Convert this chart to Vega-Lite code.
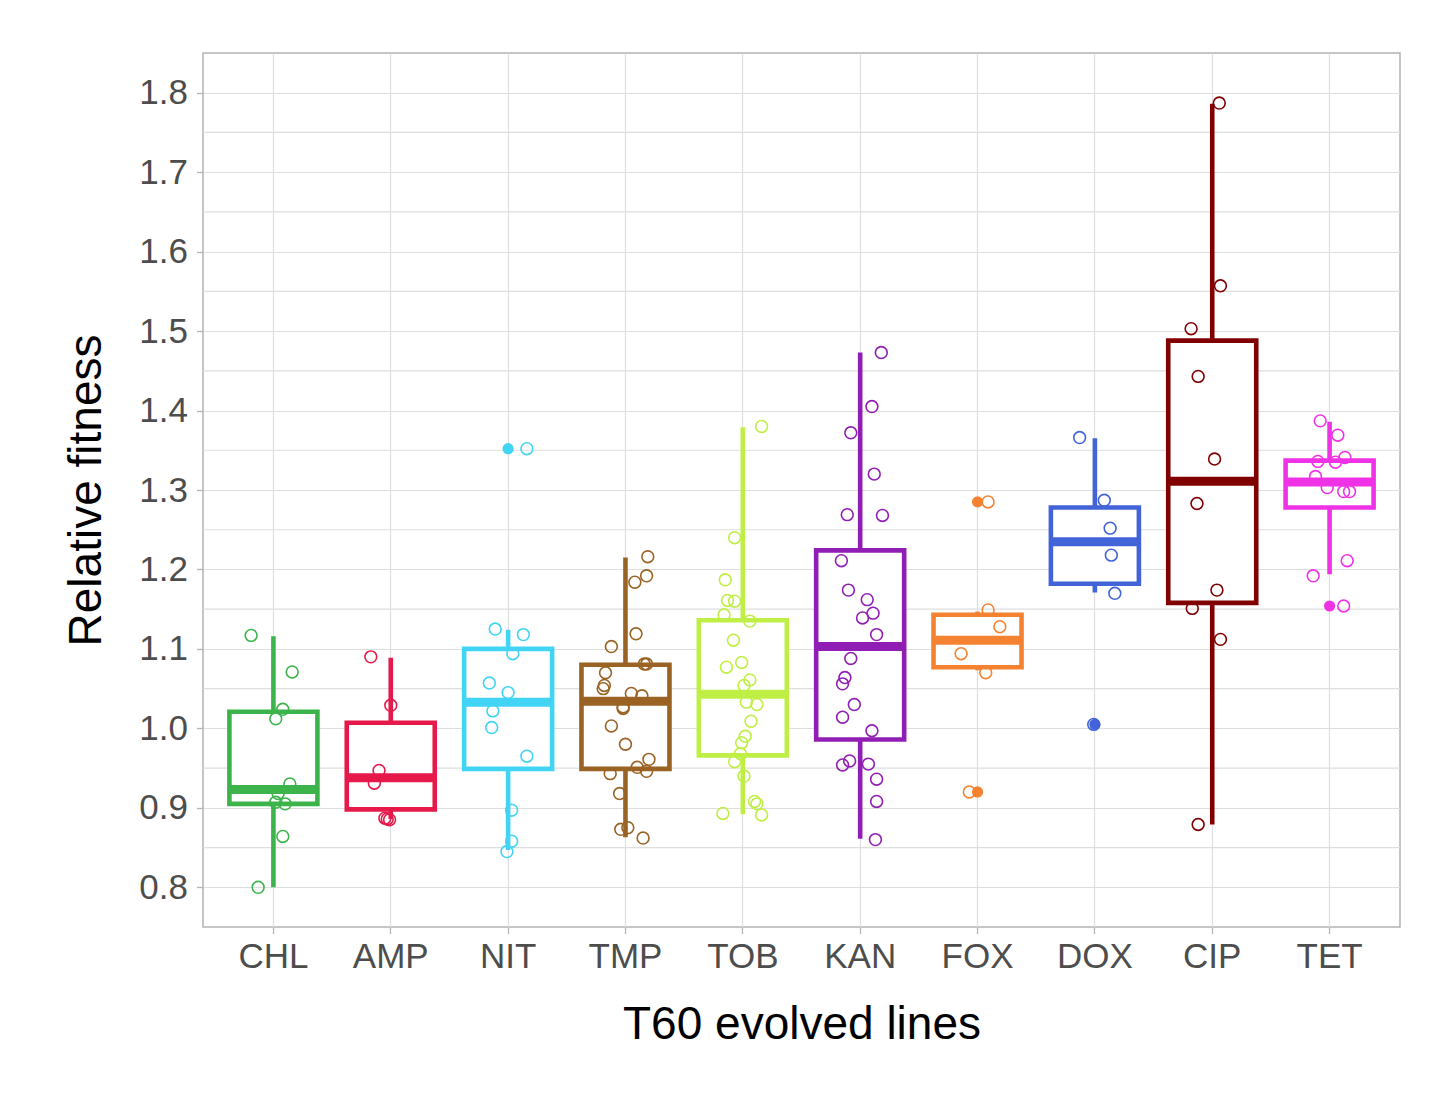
{
  "$schema": "https://vega.github.io/schema/vega-lite/v6.json",
  "width": 1197,
  "height": 874,
  "autosize": {"type": "none"},
  "padding": {"left": 203, "top": 53, "right": 32, "bottom": 166},
  "background": "white",
  "datasets": {
    "minor": [
      {"v": 0.85}, {"v": 0.95}, {"v": 1.05}, {"v": 1.15}, {"v": 1.25}, {"v": 1.35},
      {"v": 1.45}, {"v": 1.55}, {"v": 1.65}, {"v": 1.75}
    ],
    "boxes": [
      {"cat": "CHL", "lower": 0.800, "q1": 0.905, "median": 0.923, "q3": 1.021, "upper": 1.116},
      {"cat": "AMP", "lower": 0.886, "q1": 0.898, "median": 0.938, "q3": 1.007, "upper": 1.089},
      {"cat": "NIT", "lower": 0.847, "q1": 0.949, "median": 1.033, "q3": 1.100, "upper": 1.124},
      {"cat": "TMP", "lower": 0.863, "q1": 0.949, "median": 1.034, "q3": 1.080, "upper": 1.215},
      {"cat": "TOB", "lower": 0.892, "q1": 0.966, "median": 1.043, "q3": 1.136, "upper": 1.379},
      {"cat": "KAN", "lower": 0.861, "q1": 0.986, "median": 1.103, "q3": 1.224, "upper": 1.473},
      {"cat": "FOX", "lower": 1.073, "q1": 1.077, "median": 1.111, "q3": 1.143, "upper": 1.147},
      {"cat": "DOX", "lower": 1.171, "q1": 1.182, "median": 1.235, "q3": 1.278, "upper": 1.365},
      {"cat": "CIP", "lower": 0.879, "q1": 1.158, "median": 1.311, "q3": 1.488, "upper": 1.786},
      {"cat": "TET", "lower": 1.194, "q1": 1.278, "median": 1.310, "q3": 1.337, "upper": 1.386}
    ],
    "outliers": [
      {"cat": "NIT", "fitness": 1.352},
      {"cat": "FOX", "fitness": 1.285},
      {"cat": "FOX", "fitness": 0.920},
      {"cat": "DOX", "fitness": 1.005},
      {"cat": "TET", "fitness": 1.154}
    ],
    "points": [
      {"cat": "CHL", "fitness": 1.117, "jitter": -0.19},
      {"cat": "CHL", "fitness": 1.071, "jitter": 0.16},
      {"cat": "CHL", "fitness": 1.024, "jitter": 0.08},
      {"cat": "CHL", "fitness": 1.012, "jitter": 0.02},
      {"cat": "CHL", "fitness": 0.930, "jitter": 0.14},
      {"cat": "CHL", "fitness": 0.918, "jitter": 0.04},
      {"cat": "CHL", "fitness": 0.907, "jitter": 0.02},
      {"cat": "CHL", "fitness": 0.905, "jitter": 0.10},
      {"cat": "CHL", "fitness": 0.864, "jitter": 0.08},
      {"cat": "CHL", "fitness": 0.800, "jitter": -0.13},
      {"cat": "AMP", "fitness": 1.090, "jitter": -0.17},
      {"cat": "AMP", "fitness": 1.029, "jitter": 0.00},
      {"cat": "AMP", "fitness": 0.947, "jitter": -0.10},
      {"cat": "AMP", "fitness": 0.931, "jitter": -0.14},
      {"cat": "AMP", "fitness": 0.887, "jitter": -0.05},
      {"cat": "AMP", "fitness": 0.886, "jitter": -0.03},
      {"cat": "AMP", "fitness": 0.885, "jitter": -0.01},
      {"cat": "NIT", "fitness": 1.352, "jitter": 0.16},
      {"cat": "NIT", "fitness": 1.125, "jitter": -0.11},
      {"cat": "NIT", "fitness": 1.118, "jitter": 0.13},
      {"cat": "NIT", "fitness": 1.094, "jitter": 0.04},
      {"cat": "NIT", "fitness": 1.057, "jitter": -0.16},
      {"cat": "NIT", "fitness": 1.045, "jitter": 0.00},
      {"cat": "NIT", "fitness": 1.022, "jitter": -0.13},
      {"cat": "NIT", "fitness": 1.001, "jitter": -0.14},
      {"cat": "NIT", "fitness": 0.965, "jitter": 0.16},
      {"cat": "NIT", "fitness": 0.897, "jitter": 0.03},
      {"cat": "NIT", "fitness": 0.858, "jitter": 0.03},
      {"cat": "NIT", "fitness": 0.845, "jitter": -0.01},
      {"cat": "TMP", "fitness": 1.216, "jitter": 0.19},
      {"cat": "TMP", "fitness": 1.192, "jitter": 0.18},
      {"cat": "TMP", "fitness": 1.184, "jitter": 0.08},
      {"cat": "TMP", "fitness": 1.119, "jitter": 0.09},
      {"cat": "TMP", "fitness": 1.103, "jitter": -0.12},
      {"cat": "TMP", "fitness": 1.081, "jitter": 0.16},
      {"cat": "TMP", "fitness": 1.081, "jitter": 0.18},
      {"cat": "TMP", "fitness": 1.070, "jitter": -0.17},
      {"cat": "TMP", "fitness": 1.054, "jitter": -0.18},
      {"cat": "TMP", "fitness": 1.050, "jitter": -0.19},
      {"cat": "TMP", "fitness": 1.044, "jitter": 0.05},
      {"cat": "TMP", "fitness": 1.041, "jitter": 0.14},
      {"cat": "TMP", "fitness": 1.027, "jitter": -0.02},
      {"cat": "TMP", "fitness": 1.025, "jitter": -0.02},
      {"cat": "TMP", "fitness": 1.003, "jitter": -0.12},
      {"cat": "TMP", "fitness": 0.980, "jitter": 0.00},
      {"cat": "TMP", "fitness": 0.961, "jitter": 0.20},
      {"cat": "TMP", "fitness": 0.951, "jitter": 0.10},
      {"cat": "TMP", "fitness": 0.946, "jitter": 0.18},
      {"cat": "TMP", "fitness": 0.943, "jitter": -0.13},
      {"cat": "TMP", "fitness": 0.918, "jitter": -0.05},
      {"cat": "TMP", "fitness": 0.873, "jitter": -0.04},
      {"cat": "TMP", "fitness": 0.875, "jitter": 0.02},
      {"cat": "TMP", "fitness": 0.862, "jitter": 0.15},
      {"cat": "TOB", "fitness": 1.380, "jitter": 0.16},
      {"cat": "TOB", "fitness": 1.240, "jitter": -0.07},
      {"cat": "TOB", "fitness": 1.187, "jitter": -0.15},
      {"cat": "TOB", "fitness": 1.161, "jitter": -0.13},
      {"cat": "TOB", "fitness": 1.160, "jitter": -0.07},
      {"cat": "TOB", "fitness": 1.143, "jitter": -0.16},
      {"cat": "TOB", "fitness": 1.135, "jitter": 0.06},
      {"cat": "TOB", "fitness": 1.111, "jitter": -0.08},
      {"cat": "TOB", "fitness": 1.083, "jitter": -0.01},
      {"cat": "TOB", "fitness": 1.077, "jitter": -0.14},
      {"cat": "TOB", "fitness": 1.061, "jitter": 0.06},
      {"cat": "TOB", "fitness": 1.054, "jitter": 0.01},
      {"cat": "TOB", "fitness": 1.033, "jitter": 0.03},
      {"cat": "TOB", "fitness": 1.030, "jitter": 0.12},
      {"cat": "TOB", "fitness": 1.009, "jitter": 0.07},
      {"cat": "TOB", "fitness": 0.990, "jitter": 0.02},
      {"cat": "TOB", "fitness": 0.982, "jitter": -0.01},
      {"cat": "TOB", "fitness": 0.968, "jitter": -0.02},
      {"cat": "TOB", "fitness": 0.958, "jitter": -0.07},
      {"cat": "TOB", "fitness": 0.940, "jitter": 0.01},
      {"cat": "TOB", "fitness": 0.908, "jitter": 0.10},
      {"cat": "TOB", "fitness": 0.905, "jitter": 0.12},
      {"cat": "TOB", "fitness": 0.893, "jitter": -0.17},
      {"cat": "TOB", "fitness": 0.891, "jitter": 0.16},
      {"cat": "KAN", "fitness": 1.473, "jitter": 0.18},
      {"cat": "KAN", "fitness": 1.405, "jitter": 0.10},
      {"cat": "KAN", "fitness": 1.372, "jitter": -0.08},
      {"cat": "KAN", "fitness": 1.320, "jitter": 0.12},
      {"cat": "KAN", "fitness": 1.269, "jitter": -0.11},
      {"cat": "KAN", "fitness": 1.268, "jitter": 0.19},
      {"cat": "KAN", "fitness": 1.211, "jitter": -0.16},
      {"cat": "KAN", "fitness": 1.174, "jitter": -0.10},
      {"cat": "KAN", "fitness": 1.162, "jitter": 0.06},
      {"cat": "KAN", "fitness": 1.145, "jitter": 0.11},
      {"cat": "KAN", "fitness": 1.139, "jitter": 0.02},
      {"cat": "KAN", "fitness": 1.118, "jitter": 0.14},
      {"cat": "KAN", "fitness": 1.088, "jitter": -0.08},
      {"cat": "KAN", "fitness": 1.064, "jitter": -0.13},
      {"cat": "KAN", "fitness": 1.056, "jitter": -0.15},
      {"cat": "KAN", "fitness": 1.030, "jitter": -0.05},
      {"cat": "KAN", "fitness": 1.014, "jitter": -0.15},
      {"cat": "KAN", "fitness": 0.997, "jitter": 0.10},
      {"cat": "KAN", "fitness": 0.959, "jitter": -0.09},
      {"cat": "KAN", "fitness": 0.955, "jitter": 0.07},
      {"cat": "KAN", "fitness": 0.954, "jitter": -0.15},
      {"cat": "KAN", "fitness": 0.936, "jitter": 0.14},
      {"cat": "KAN", "fitness": 0.908, "jitter": 0.14},
      {"cat": "KAN", "fitness": 0.860, "jitter": 0.13},
      {"cat": "FOX", "fitness": 1.285, "jitter": 0.09},
      {"cat": "FOX", "fitness": 1.149, "jitter": 0.09},
      {"cat": "FOX", "fitness": 1.128, "jitter": 0.19},
      {"cat": "FOX", "fitness": 1.094, "jitter": -0.14},
      {"cat": "FOX", "fitness": 1.070, "jitter": 0.07},
      {"cat": "FOX", "fitness": 0.920, "jitter": -0.07},
      {"cat": "DOX", "fitness": 1.366, "jitter": -0.13},
      {"cat": "DOX", "fitness": 1.287, "jitter": 0.08},
      {"cat": "DOX", "fitness": 1.252, "jitter": 0.13},
      {"cat": "DOX", "fitness": 1.218, "jitter": 0.14},
      {"cat": "DOX", "fitness": 1.170, "jitter": 0.17},
      {"cat": "DOX", "fitness": 1.005, "jitter": -0.01},
      {"cat": "CIP", "fitness": 1.787, "jitter": 0.06},
      {"cat": "CIP", "fitness": 1.557, "jitter": 0.07},
      {"cat": "CIP", "fitness": 1.503, "jitter": -0.18},
      {"cat": "CIP", "fitness": 1.443, "jitter": -0.12},
      {"cat": "CIP", "fitness": 1.339, "jitter": 0.02},
      {"cat": "CIP", "fitness": 1.283, "jitter": -0.13},
      {"cat": "CIP", "fitness": 1.174, "jitter": 0.04},
      {"cat": "CIP", "fitness": 1.151, "jitter": -0.17},
      {"cat": "CIP", "fitness": 1.112, "jitter": 0.07},
      {"cat": "CIP", "fitness": 0.879, "jitter": -0.12},
      {"cat": "TET", "fitness": 1.387, "jitter": -0.08},
      {"cat": "TET", "fitness": 1.369, "jitter": 0.07},
      {"cat": "TET", "fitness": 1.341, "jitter": 0.13},
      {"cat": "TET", "fitness": 1.336, "jitter": -0.10},
      {"cat": "TET", "fitness": 1.335, "jitter": 0.05},
      {"cat": "TET", "fitness": 1.317, "jitter": -0.12},
      {"cat": "TET", "fitness": 1.303, "jitter": -0.02},
      {"cat": "TET", "fitness": 1.298, "jitter": 0.12},
      {"cat": "TET", "fitness": 1.298, "jitter": 0.17},
      {"cat": "TET", "fitness": 1.211, "jitter": 0.15},
      {"cat": "TET", "fitness": 1.192, "jitter": -0.14},
      {"cat": "TET", "fitness": 1.154, "jitter": 0.12}
    ]
  },
  "encoding": {
    "x": {
      "field": "cat",
      "type": "nominal",
      "scale": {
        "domain": ["CHL", "AMP", "NIT", "TMP", "TOB", "KAN", "FOX", "DOX", "CIP", "TET"],
        "paddingInner": 0,
        "paddingOuter": 0.1
      },
      "axis": {
        "title": "T60 evolved lines",
        "labelAngle": 0,
        "bandPosition": 0.5,
        "grid": true,
        "gridColor": "#dedede",
        "gridWidth": 1.2,
        "domain": false,
        "tickColor": "#b3b3b3",
        "tickSize": 6.5,
        "tickWidth": 1.3,
        "labelFontSize": 35,
        "labelColor": "#4d4d4d",
        "labelPadding": 6,
        "titleFontSize": 46,
        "titleFontWeight": "normal",
        "titleColor": "black",
        "titlePadding": 28
      }
    }
  },
  "layer": [
    {
      "data": {"name": "minor"},
      "mark": {"type": "rule", "color": "#dedede", "strokeWidth": 1.2},
      "encoding": {
        "x": {"value": 0},
        "x2": {"value": 1197},
        "y": {
          "field": "v",
          "type": "quantitative",
          "scale": {"domain": [0.75, 1.85], "nice": false, "zero": false},
          "axis": {
            "title": "Relative fitness",
            "values": [0.8, 0.9, 1.0, 1.1, 1.2, 1.3, 1.4, 1.5, 1.6, 1.7, 1.8],
            "format": ".1f",
            "labelOverlap": false,
            "labelFlush": false,
            "grid": true,
            "gridColor": "#dedede",
            "gridWidth": 1.2,
            "domain": false,
            "tickColor": "#b3b3b3",
            "tickSize": 6.5,
            "tickWidth": 1.3,
            "labelFontSize": 35,
            "labelColor": "#4d4d4d",
            "labelPadding": 9,
            "titleFontSize": 46,
            "titleFontWeight": "normal",
            "titleColor": "black",
            "titlePadding": 28
          }
        }
      }
    },
    {
      "data": {"name": "boxes"},
      "mark": {"type": "rule", "strokeWidth": 4.6, "strokeCap": "butt"},
      "encoding": {
        "y": {"field": "lower", "type": "quantitative"},
        "y2": {"field": "upper"},
        "color": {
          "field": "cat",
          "type": "nominal",
          "scale": {
            "domain": ["CHL", "AMP", "NIT", "TMP", "TOB", "KAN", "FOX", "DOX", "CIP", "TET"],
            "range": ["#3cb44b", "#e6194b", "#42d4f4", "#9a6324", "#bfef45", "#911eb4", "#f58231", "#4363d8", "#800000", "#f032e6"]
          },
          "legend": null
        }
      }
    },
    {
      "data": {"name": "boxes"},
      "mark": {"type": "bar", "fill": "white", "strokeWidth": 4.6, "width": 88, "opacity": 1},
      "encoding": {
        "y": {"field": "q1", "type": "quantitative"},
        "y2": {"field": "q3"},
        "stroke": {
          "field": "cat",
          "type": "nominal",
          "scale": {
            "domain": ["CHL", "AMP", "NIT", "TMP", "TOB", "KAN", "FOX", "DOX", "CIP", "TET"],
            "range": ["#3cb44b", "#e6194b", "#42d4f4", "#9a6324", "#bfef45", "#911eb4", "#f58231", "#4363d8", "#800000", "#f032e6"]
          },
          "legend": null
        }
      }
    },
    {
      "data": {"name": "boxes"},
      "mark": {"type": "tick", "size": 88, "thickness": 9, "orient": "horizontal", "opacity": 1},
      "encoding": {
        "y": {"field": "median", "type": "quantitative"},
        "color": {"field": "cat", "type": "nominal", "legend": null}
      }
    },
    {
      "data": {"name": "outliers"},
      "mark": {"type": "circle", "size": 125, "opacity": 1},
      "encoding": {
        "y": {"field": "fitness", "type": "quantitative"},
        "color": {"field": "cat", "type": "nominal", "legend": null}
      }
    },
    {
      "data": {"name": "points"},
      "mark": {"type": "point", "shape": "circle", "filled": false, "size": 140, "strokeWidth": 1.6, "opacity": 1},
      "encoding": {
        "y": {"field": "fitness", "type": "quantitative"},
        "xOffset": {"field": "jitter", "type": "quantitative", "scale": {"domain": [-0.5, 0.5]}},
        "color": {"field": "cat", "type": "nominal", "legend": null}
      }
    }
  ],
  "config": {
    "font": "Liberation Sans",
    "view": {"stroke": "#b3b3b3", "strokeWidth": 1.5}
  }
}
